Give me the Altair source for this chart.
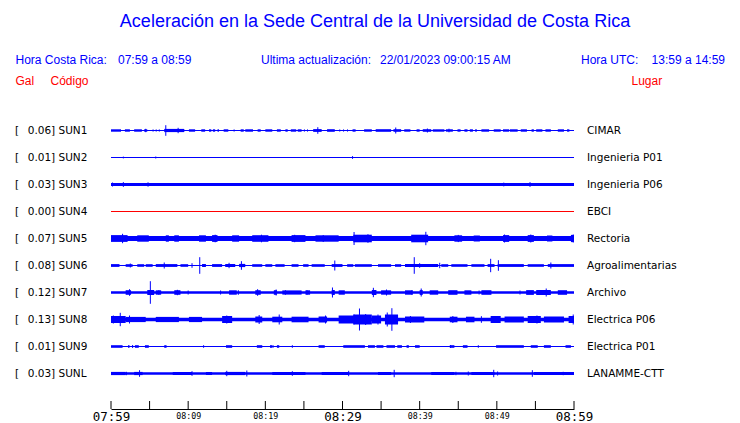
import json
import altair as alt
import pandas as pd

# ---------------- data ----------------
codes = ["SUN1", "SUN2", "SUN3", "SUN4", "SUN5", "SUN6", "SUN7", "SUN8", "SUN9", "SUNL"]
gal = [0.06, 0.01, 0.03, 0.00, 0.07, 0.08, 0.12, 0.13, 0.01, 0.03]
places = ["CIMAR", "Ingenieria P01", "Ingenieria P06", "EBCI", "Rectoria",
          "Agroalimentarias", "Archivo", "Electrica P06", "Electrica P01", "LANAMME-CTT"]
trace_colors = ["#0000ff", "#0000ff", "#0000ff", "#ff0000", "#0000ff",
                "#0000ff", "#0000ff", "#0000ff", "#0000ff", "#0000ff"]

# background (quiet) half-amplitude of every trace, relative units
base_amp = [0.55, 0.55, 1.6, 0.5, 2.4, 0.6, 1.3, 1.7, 0.55, 1.3]

# bursts: (start minute, end minute, half amplitude)
bursts = {
    "SUN1": [(0, 1.3, 1.2), (1.8, 2.45, 1.2), (3.0, 4.0, 1.2), (4.3, 4.7, 1.2), (5.4, 5.5, 1.2),
             (5.8, 5.9, 1.2), (6.2, 6.3, 1.2), (6.9, 9.5, 1.6), (10.1, 10.9, 1.2), (11.7, 12.2, 1.2),
             (12.7, 13.0, 1.2), (13.2, 13.5, 1.2), (13.8, 14.0, 1.2), (14.6, 15.2, 1.2), (15.9, 16.0, 1.2),
             (16.8, 17.2, 1.2), (17.4, 18.4, 1.2), (19.0, 19.4, 1.2), (20.0, 20.9, 1.2), (21.5, 22.0, 1.2),
             (22.6, 22.9, 1.2), (23.3, 24.0, 1.2), (24.2, 24.7, 1.2), (25.0, 25.1, 1.2), (25.4, 25.5, 1.2),
             (26.2, 27.3, 1.4), (28.0, 29.0, 1.3), (29.6, 29.7, 1.2), (30.1, 30.2, 1.2), (30.6, 30.7, 1.2),
             (31.3, 31.7, 1.2), (32.8, 33.8, 1.2), (34.3, 36.3, 1.3), (36.6, 37.6, 1.3), (38.0, 38.8, 1.2),
             (39.6, 40.0, 1.2), (40.4, 41.5, 1.3), (41.7, 43.2, 1.2), (43.4, 44.3, 1.2), (44.9, 45.3, 1.2),
             (45.8, 46.2, 1.2), (46.5, 46.9, 1.2), (47.2, 47.4, 1.2), (48.0, 49.0, 1.2), (49.6, 50.5, 1.2),
             (50.8, 51.6, 1.2), (51.7, 52.7, 1.2), (53.1, 53.9, 1.2), (54.5, 54.8, 1.2), (55.1, 55.9, 1.2),
             (56.3, 57.0, 1.2), (57.9, 58.7, 1.2), (59.1, 59.4, 1.2)],
    "SUN2": [],
    "SUN3": [],
    "SUN4": [],
    "SUN5": [(0, 2.15, 3.4), (3.4, 4.9, 3.2), (7.1, 7.5, 3.2), (8.2, 8.8, 3.2), (11.4, 12.3, 3.2),
             (13.1, 13.8, 3.4), (15.7, 16.6, 3.2), (18.3, 20.4, 3.3), (23.4, 25.2, 3.4), (26.5, 29.5, 3.2),
             (31.4, 33.8, 3.8), (38.9, 41.1, 3.8), (44.5, 45.5, 3.2), (47.0, 47.8, 3.0), (50.8, 51.6, 3.4),
             (54.0, 54.8, 3.4), (56.5, 57.2, 3.0), (59.6, 60, 3.6)],
    "SUN6": [(0, 1.1, 1.4), (1.9, 2.8, 1.3), (3.4, 4.3, 1.3), (4.5, 5.4, 1.3), (5.8, 8.6, 1.4),
             (9.0, 10.0, 1.3), (11.8, 12.3, 1.5), (13.1, 14.4, 1.4), (14.8, 16.1, 1.5), (16.6, 17.4, 1.6),
             (18.3, 19.6, 1.3), (20.0, 20.9, 1.3), (21.3, 22.5, 1.3), (23.4, 24.3, 1.3), (24.9, 25.6, 1.3),
             (26.0, 27.7, 1.3), (28.6, 30.0, 1.4), (30.6, 31.4, 1.3), (31.6, 33.8, 1.3), (34.6, 36.3, 1.3),
             (36.8, 37.6, 1.3), (38.1, 42.4, 1.4), (42.8, 43.7, 1.3), (44.1, 46.2, 1.3), (46.7, 48.4, 1.3),
             (48.8, 49.7, 1.4), (50.1, 53.5, 1.4), (54.0, 56.1, 1.3), (56.6, 60, 1.4)],
    "SUN7": [(1.9, 2.6, 2.3), (4.7, 5.6, 2.5), (5.8, 6.5, 2.2), (8.2, 9.0, 2.3), (15.3, 16.3, 2.2),
             (18.7, 19.4, 2.3), (21.1, 21.5, 2.3), (22.2, 24.7, 2.1), (25.2, 25.8, 2.2), (28.6, 29.0, 2.5),
             (29.5, 30.3, 2.2), (33.8, 34.4, 2.5), (35.0, 36.3, 2.2), (38.1, 39.1, 2.2), (40.0, 40.4, 2.4),
             (41.3, 42.4, 2.2), (43.7, 44.9, 2.3), (45.8, 46.7, 2.2), (48.0, 49.3, 2.3), (53.8, 54.8, 2.4),
             (55.1, 57.0, 2.5), (57.9, 59.1, 2.3)],
    "SUN8": [(0, 1.9, 3.5), (1.9, 4.5, 2.6), (5.8, 8.8, 2.6), (10.1, 11.8, 2.6), (14.4, 15.7, 3.5),
             (18.7, 19.6, 3.0), (20.9, 22.2, 2.8), (23.4, 25.6, 2.8), (26.9, 28.0, 3.0), (29.5, 32.0, 4.0),
             (31.4, 33.8, 5.0), (33.8, 35.0, 4.0), (35.5, 37.2, 5.0), (38.1, 40.6, 3.0), (43.9, 44.9, 2.8),
             (46.0, 47.1, 2.8), (49.2, 50.5, 3.5), (51.0, 53.5, 3.0), (54.0, 55.7, 3.5), (56.1, 58.7, 3.0),
             (59.3, 60, 3.5)],
    "SUN9": [(0, 1.5, 1.3), (2.2, 2.4, 1.3), (3.1, 3.6, 1.3), (4.4, 4.9, 1.3), (6.9, 7.2, 1.3),
             (14.9, 15.7, 1.3), (18.9, 19.6, 1.3), (20.6, 20.9, 1.3), (21.5, 21.8, 1.3), (26.9, 27.7, 1.3),
             (30.1, 32.9, 1.3), (33.3, 34.2, 1.3), (34.4, 35.3, 1.3), (35.7, 36.8, 1.3), (37.1, 37.7, 1.3),
             (38.3, 38.6, 1.3), (39.4, 40.0, 1.3), (43.9, 44.5, 1.3), (45.6, 46.2, 1.3), (49.9, 53.5, 1.3),
             (54.4, 55.3, 1.3), (56.1, 57.0, 1.3), (58.9, 59.6, 1.3)],
    "SUNL": [(0, 1.9, 1.6), (3.0, 4.1, 1.6), (8.0, 10.5, 1.5), (12.3, 13.1, 1.5), (14.8, 17.4, 1.6),
             (20.9, 25.2, 1.5), (27.3, 30.8, 1.5), (34.6, 36.3, 1.5), (41.5, 44.5, 1.5), (46.7, 49.7, 1.5),
             (54.8, 60, 1.6)],
}

# single spikes: (minute, half amplitude)
spikes = {
    "SUN1": [(4.5, 1.7), (7.1, 5.3), (8.7, 2.7), (26.8, 3.3), (36.9, 3.0), (41.0, 2.0), (43.8, 1.8)],
    "SUN2": [(1.6, 0.9), (5.8, 1.0), (31.3, 1.4)],
    "SUN3": [(0.2, 2.0), (1.6, 2.4), (4.8, 2.2), (50.9, 1.9), (54.3, 2.4)],
    "SUN4": [],
    "SUN5": [(1.5, 4.7), (31.5, 6.5), (33.3, 4.3), (40.8, 6.7), (51.0, 4.0), (54.4, 4.0), (59.9, 4.0),
             (13.5, 3.8), (19.5, 3.8), (23.8, 3.7), (45.0, 3.6), (27.5, 3.5)],
    "SUN6": [(11.5, 8.3), (16.9, 4.3), (6.9, 3.0), (29.0, 5.0), (39.3, 8.3), (49.2, 6.7), (50.2, 5.3),
             (57.0, 3.0), (2.5, 2.0), (10.5, 2.3), (15.3, 2.7), (40.0, 2.3), (42.6, 2.7)],
    "SUN7": [(5.1, 11.3), (2.4, 3.3), (6.2, 2.3), (8.6, 2.7), (19.0, 3.3), (21.4, 3.0), (28.7, 5.0),
             (34.0, 4.7), (35.7, 3.0), (40.2, 4.0), (56.4, 4.0), (10.0, 2.0), (14.2, 2.0), (16.5, 2.3),
             (22.6, 2.3), (25.4, 2.3), (39.0, 2.3), (47.7, 2.0), (53.0, 2.0)],
    "SUN8": [(1.2, 6.7), (0.3, 4.0), (2.4, 4.0), (15.0, 4.0), (19.2, 4.5), (21.8, 5.0), (27.8, 4.0),
             (32.2, 11.0), (36.4, 11.3), (34.6, 5.0), (35.8, 7.0), (33.0, 5.5), (31.5, 5.0), (55.2, 4.0),
             (59.9, 5.0), (38.8, 3.5), (44.3, 3.5), (48.0, 3.3)],
    "SUN9": [(2.8, 1.5), (12.0, 1.3), (21.0, 1.3), (23.5, 1.3), (44.0, 1.5), (47.6, 1.3)],
    "SUNL": [(3.7, 3.3), (10.5, 2.3), (15.0, 2.7), (17.6, 3.0), (23.5, 2.3), (30.8, 2.7), (36.7, 3.7),
             (49.6, 3.7), (54.6, 3.3), (50.1, 2.0), (44.7, 1.7), (46.3, 2.0), (58.6, 1.7), (2.0, 1.7)],
}

tick_minutes = list(range(0, 61, 5))
label_minutes = list(range(0, 61, 10))
tick_labels = ["07:59", "08:09", "08:19", "08:29", "08:39", "08:49", "08:59"]

title_text = "Aceleración en la Sede Central de la Universidad de Costa Rica"

# ---------------- layout constants ----------------
W, H = 463, 293
ROW_UNITS = 27.0          # amplitude units per row spacing
TOP_OFFSET = 14.5         # first row center below plot top (in units)

# ---------------- tables ----------------
rect_rows, spike_rows = [], []
for i, c in enumerate(codes):
    segs = [(0, 60, base_amp[i])] + bursts[c]
    for (a, b, amp) in segs:
        rect_rows.append(dict(code=c, row=i, t0=a, t1=b,
                              lo=i - amp / ROW_UNITS, hi=i + amp / ROW_UNITS,
                              col=trace_colors[i]))
    for (t, amp) in spikes[c]:
        spike_rows.append(dict(code=c, row=i, t=t,
                               lo=i - amp / ROW_UNITS, hi=i + amp / ROW_UNITS,
                               col=trace_colors[i]))
rects = pd.DataFrame(rect_rows)
spk = pd.DataFrame(spike_rows)
rows = pd.DataFrame(dict(row=list(range(len(codes))), code=codes, place=places,
                         label=[f"{g:.2f}] {c}" for g, c in zip(gal, codes)]))
ticks = pd.DataFrame(dict(m=tick_minutes))

ymin = -TOP_OFFSET / ROW_UNITS
ymax = (H - TOP_OFFSET) / ROW_UNITS
xscale = alt.Scale(domain=[0, 60], nice=False, zero=False)
yscale = alt.Scale(domain=[ymin, ymax], reverse=True, nice=False, zero=False)

label_expr = json.dumps(tick_labels) + "[round(datum.value / 10)]"
xaxis = alt.Axis(values=label_minutes, labelExpr=label_expr, labelFlush=False, ticks=False,
                 grid=False, domainColor="black", domainWidth=1, labelColor="black",
                 labelFont="DejaVu Sans Mono",
                 labelFontSize={"condition": {"test": "datum.value % 30 === 0", "value": 12.5},
                                "value": 8.3},
                 labelPadding=7, labelBaseline="middle", labelOverlap=False, title=None)

trace_rects = alt.Chart(rects).mark_rect(strokeWidth=0).encode(
    x=alt.X("t0:Q", scale=xscale, axis=xaxis),
    x2="t1:Q",
    y=alt.Y("lo:Q", scale=yscale, axis=None),
    y2="hi:Q",
    color=alt.Color("col:N", scale=None),
)

trace_spikes = alt.Chart(spk).mark_rule(strokeWidth=1).encode(
    x=alt.X("t:Q", scale=xscale, axis=xaxis),
    y=alt.Y("lo:Q", scale=yscale, axis=None),
    y2="hi:Q",
    color=alt.Color("col:N", scale=None),
)

tick_rules = alt.Chart(ticks).mark_rule(color="black", strokeWidth=1).encode(
    x=alt.X("m:Q", scale=xscale, axis=xaxis),
    y=alt.value(H - 8),
    y2=alt.value(H),
)

ROW_FONT = "DejaVu Sans"
bracket = alt.Chart(rows).mark_text(text="[", align="left", baseline="middle",
                                    font=ROW_FONT, fontSize=10.5, color="black").encode(
    x=alt.value(-96), y=alt.Y("row:Q", scale=yscale, axis=None))
row_label = alt.Chart(rows).mark_text(align="left", baseline="middle",
                                      font=ROW_FONT, fontSize=10.5, color="black").encode(
    x=alt.value(-83.3), y=alt.Y("row:Q", scale=yscale, axis=None), text="label:N")
place_label = alt.Chart(rows).mark_text(align="left", baseline="middle",
                                        font=ROW_FONT, fontSize=10.5, color="black").encode(
    x=alt.value(476), y=alt.Y("row:Q", scale=yscale, axis=None), text="place:N")


def txt(s, dx, dy, size, color, align="left", font="Liberation Sans"):
    return alt.Chart(pd.DataFrame({"s": [s]})).mark_text(
        align=align, baseline="middle", fontSize=size, color=color, font=font
    ).encode(text="s:N", x=alt.value(dx), y=alt.value(dy))


BLUE, RED = "#0000ff", "#ff0000"
headers = [
    txt(title_text, 264, -94, 18, BLUE, align="center"),
    txt("Hora Costa Rica:", -95.5, -56, 12, BLUE),
    txt("07:59 a 08:59", 7, -56, 12, BLUE),
    txt("Ultima actualización:", 150, -56, 12, BLUE),
    txt("22/01/2023 09:00:15 AM", 269, -56, 12, BLUE),
    txt("Hora UTC:", 470, -56, 12, BLUE),
    txt("13:59 a 14:59", 614, -56, 12, BLUE, align="right"),
    txt("Gal", -95.5, -35, 12, RED),
    txt("Código", -60.5, -35, 12, RED),
    txt("Lugar", 520.5, -35, 12, RED),
]

chart = alt.layer(
    trace_rects, trace_spikes, tick_rules, bracket, row_label, place_label, *headers
).properties(
    width=W, height=H,
    autosize=alt.AutoSizeParams(type="none"),
    padding={"left": 103, "top": 108, "right": 158, "bottom": 14},
    background="white",
).configure_view(stroke=None)

chart.save("out.html", embed_options={"renderer": "svg", "actions": False})
